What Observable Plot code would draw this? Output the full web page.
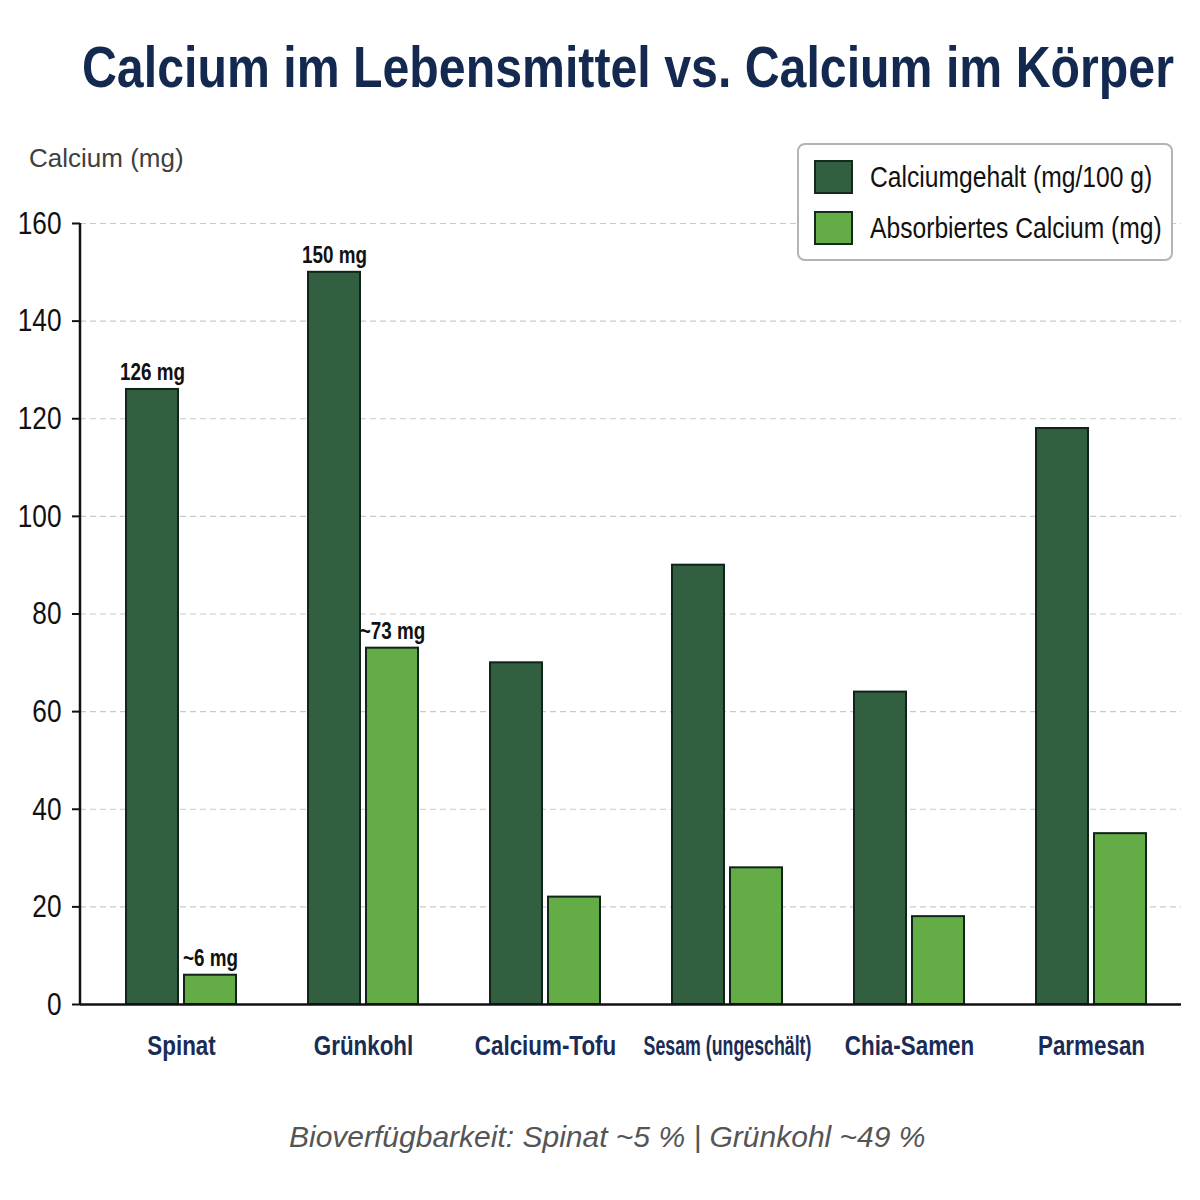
<!DOCTYPE html>
<html lang="de">
<head>
<meta charset="utf-8">
<title>Calcium im Lebensmittel vs. Calcium im Körper</title>
<script src="https://cdn.jsdelivr.net/npm/d3@7"></script>
<script src="https://cdn.jsdelivr.net/npm/@observablehq/plot@0.6"></script>
<style>
  html, body { margin: 0; padding: 0; background: #ffffff; }
  #page { position: relative; width: 1200px; height: 1200px; background: #ffffff; overflow: hidden; }
  .cond { display: inline-block; transform-origin: 0 50%; white-space: nowrap; }
  #title {
    position: absolute; left: 82px; top: 39px; margin: 0;
    font-family: "Liberation Sans", Arial, sans-serif;
    font-size: 57px; line-height: 57px; font-weight: bold; color: #14294f;
    transform: scaleX(0.847);
  }
  #ylabel {
    position: absolute; left: 29px; top: 145px;
    font-family: "Liberation Sans", Arial, sans-serif;
    font-size: 26px; line-height: 26px; color: #404040; white-space: nowrap;
  }
  #chart { position: absolute; left: 0; top: 130px; }
  #legend {
    position: absolute; left: 797px; top: 143px; width: 372px; height: 114px;
    border: 2px solid #b4b4b4; border-radius: 8px; background: #ffffff;
    font-family: "Liberation Sans", Arial, sans-serif;
  }
  .item { position: absolute; left: 15px; height: 34px; display: flex; align-items: center; }
  .swatch { width: 35px; height: 30px; border: 2px solid #142a1a; box-sizing: content-box; flex: none; }
  .item span { margin-left: 17px; font-size: 29px; line-height: 34px; color: #111; transform: scaleX(0.85); }
  #caption {
    position: absolute; left: 289px; top: 1122px;
    font-family: "Liberation Sans", Arial, sans-serif; font-style: italic;
    font-size: 30px; line-height: 30px; color: #555555; white-space: nowrap;
  }
</style>
</head>
<body>
<div id="page">
  <h1 id="title" class="cond">Calcium im Lebensmittel vs. Calcium im Körper</h1>
  <div id="ylabel">Calcium (mg)</div>
  <div id="chart"></div>
  <div id="legend"></div>
  <div id="caption">Bioverfügbarkeit: Spinat ~5 % | Grünkohl ~49 %</div>
</div>
<script>
// Foods and their calcium values
const foods = ["Spinat", "Grünkohl", "Calcium-Tofu", "Sesam (ungeschält)", "Chia-Samen", "Parmesan"];
const calciumContent = [126, 150, 70, 90, 64, 118];   // Calciumgehalt (mg/100 g)
const calciumAbsorbed = [6, 73, 22, 28, 18, 35];      // Absorbiertes Calcium (mg)
const annotatedFoods = ["Spinat", "Grünkohl"];
const yTicks = [0, 20, 40, 60, 80, 100, 120, 140, 160];

const seriesNames = ["Calciumgehalt (mg/100 g)", "Absorbiertes Calcium (mg)"];
const seriesColors = ["#315f40", "#64ac46"];

const rows = foods.map((food, i) => ({food, content: calciumContent[i], absorbed: calciumAbsorbed[i]}));
const annotatedRows = rows.filter(d => annotatedFoods.includes(d.food));

const barStroke = "#10241a";

// Vertical y axis line spanning the y scale's ticks
function yAxisLine(index, scales, values, dimensions) {
  const line = document.createElementNS("http://www.w3.org/2000/svg", "line");
  line.setAttribute("x1", dimensions.marginLeft);
  line.setAttribute("x2", dimensions.marginLeft);
  line.setAttribute("y1", scales.y(d3.min(yTicks)));
  line.setAttribute("y2", scales.y(d3.max(yTicks)));
  line.setAttribute("stroke", "#111");
  line.setAttribute("stroke-width", 2.5);
  return line;
}

const chart = Plot.plot({
  width: 1200,
  height: 950,
  marginLeft: 80,
  marginRight: 19,
  marginTop: 93,
  marginBottom: 76,
  style: {fontFamily: "'Liberation Sans', Arial, sans-serif", background: "transparent", overflow: "visible"},
  x: {type: "band", domain: foods, paddingInner: 0.398, paddingOuter: 0.212, align: 0.56, axis: null},
  y: {domain: [0, 160], axis: null},
  marks: [
    Plot.gridY(yTicks.filter(t => t > 0), {stroke: "#c9c9c9", strokeOpacity: 1, strokeWidth: 1.2, strokeDasharray: "6,4"}),
    Plot.barY(rows, {x: "food", y: "content", fill: seriesColors[0], stroke: barStroke, strokeWidth: 2, insetRight: 58}),
    Plot.barY(rows, {x: "food", y: "absorbed", fill: seriesColors[1], stroke: barStroke, strokeWidth: 2, insetLeft: 58}),
    Plot.ruleY([0], {stroke: "#111", strokeWidth: 2.5}),
    yAxisLine,
    Plot.axisY({ticks: yTicks, tickSize: 8, tickPadding: 11, fontSize: 32, stroke: "#111", strokeWidth: 2, fill: "#111", label: null, ariaLabel: "y-axis"}),
    Plot.axisX({tickSize: 0, tickPadding: 31, fontSize: 28, fontWeight: "bold", fill: "#1a2c56", label: null, ariaLabel: "x-axis"}),
    Plot.text(annotatedRows, {x: "food", y: "content", text: d => `${d.content} mg`, dx: -29, dy: -9, lineAnchor: "bottom", fontSize: 23, fontWeight: "bold", fill: "#111"}),
    Plot.text(annotatedRows, {x: "food", y: "absorbed", text: d => `~${d.absorbed} mg`, dx: 29, dy: -9, lineAnchor: "bottom", fontSize: 23, fontWeight: "bold", fill: "#111"})
  ]
});
document.getElementById("chart").appendChild(chart);

// Condensed lettering: squeeze each text horizontally around its anchor point
function condense(el, s) {
  const xAttr = el.getAttribute("x");
  const x = xAttr !== null && !isNaN(+xAttr) ? +xAttr : 0;
  if (xAttr !== null && !isNaN(+xAttr)) el.removeAttribute("x");
  const t = el.getAttribute("transform") || "";
  el.setAttribute("transform", `${t} translate(${x},0) scale(${s},1)`);
}
const maxLabelWidth = 168;
chart.querySelectorAll("text").forEach(el => {
  const inXAxis = el.closest("[aria-label='x-axis tick label']");
  let s = 0.82;
  if (inXAxis) {
    const w = el.getBBox().width;
    s = Math.min(0.8, maxLabelWidth / w);
  }
  condense(el, s);
});

// Legend
const legend = document.getElementById("legend");
seriesNames.forEach((name, i) => {
  const item = document.createElement("div");
  item.className = "item";
  item.style.top = (15 + i * 51) + "px";
  const sw = document.createElement("div");
  sw.className = "swatch";
  sw.style.background = seriesColors[i];
  const label = document.createElement("span");
  label.className = "cond";
  label.textContent = name;
  item.appendChild(sw);
  item.appendChild(label);
  legend.appendChild(item);
});
</script>
</body>
</html>
